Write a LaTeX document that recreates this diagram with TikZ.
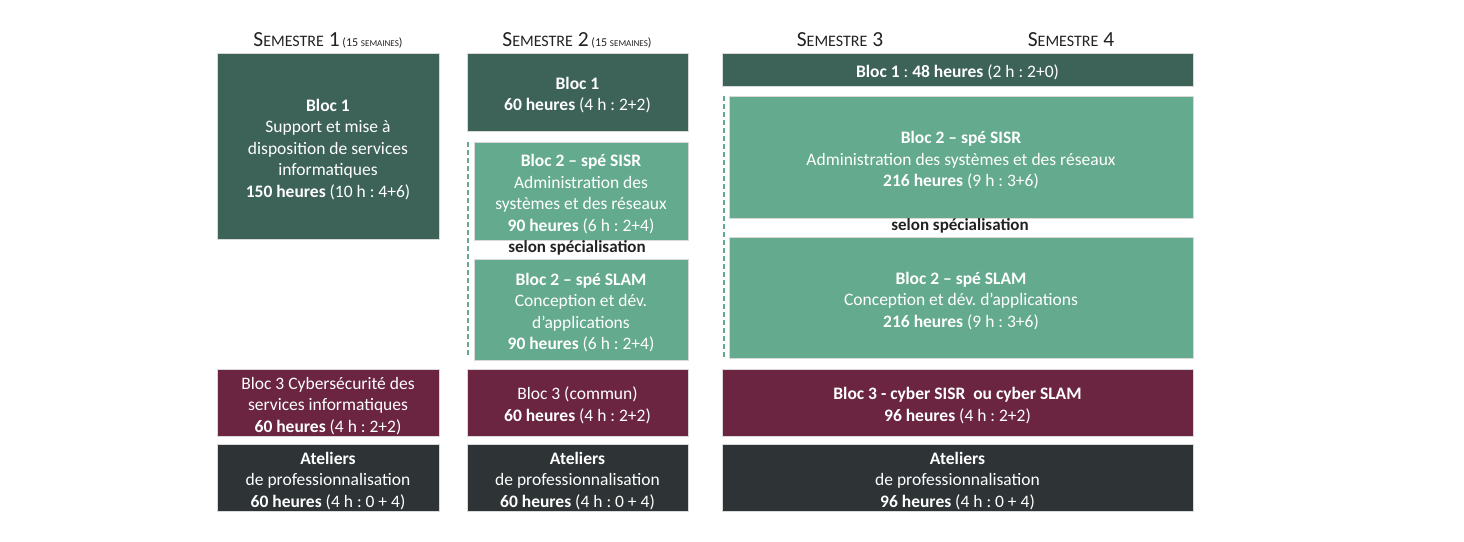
\documentclass[tikz,border=0pt]{standalone}
\usepackage{fontspec}
\setmainfont{Carlito}
\frenchspacing
\definecolor{dkgreen}{RGB}{61,99,88}
\definecolor{ltgreen}{RGB}{100,170,142}
\definecolor{maroon}{RGB}{107,37,65}
\definecolor{charcoal}{RGB}{46,52,54}
\definecolor{labeltext}{RGB}{34,34,34}
\newcommand{\semhead}[1]{{\fontsize{21.5}{24}\selectfont S}{\fontsize{16}{24}\selectfont EMESTRE}{\fontsize{21.5}{24}\selectfont\ #1}}
\newcommand{\semweeks}{{\fontsize{12}{24}\selectfont\ (15 }{\fontsize{9}{24}\selectfont SEMAINES}{\fontsize{12}{24}\selectfont )}}
\newcommand{\tstrut}{\rule{0pt}{18.5pt}}
\begin{document}
\begin{tikzpicture}[x=1pt,y=-1pt,
  box/.style={rectangle,inner sep=0pt,align=center,text=white,
    font=\fontsize{17.5}{21.5}\selectfont,draw=white!85!black,line width=0.6pt},
  dk/.style={box,fill=dkgreen},
  lt/.style={box,fill=ltgreen},
  mr/.style={box,fill=maroon},
  ch/.style={box,fill=charcoal},
  head/.style={inner sep=0pt,text=labeltext},
  spec/.style={inner sep=0pt,text=labeltext,font=\fontsize{17}{20}\selectfont\bfseries},
  dashline/.style={draw=ltgreen,line width=1.2pt,dash pattern=on 5pt off 3pt}]
\useasboundingbox (0,0) rectangle (1464,541);
% headers
\node[head] (h1) at (328,40) {\semhead{1}\semweeks};
\node[head] (h2) at (577,40) {\semhead{2}\semweeks};
\node[head] (h3) at (840,40) {\semhead{3}};
\node[head] (h4) at (1071,40) {\semhead{4}};
% semester 1
\node[dk,minimum width=222pt,minimum height=186pt] (s1b1) at (328,146)
  {\tstrut\textbf{Bloc 1}\\Support et mise à\\disposition de services\\informatiques\\\textbf{150 heures} (10 h : 4+6)};
\node[mr,minimum width=222pt,minimum height=67pt] (s1b3) at (328,402.5)
  {\tstrut Bloc 3 Cybersécurité des\\services informatiques\\\textbf{60 heures} (4 h : 2+2)};
\node[ch,minimum width=222pt,minimum height=67pt] (s1at) at (328,477.5)
  {\tstrut\textbf{Ateliers}\\de professionnalisation\\\textbf{60 heures} (4 h : 0 + 4)};
% semester 2
\node[dk,minimum width=221pt,minimum height=78pt] (s2b1) at (577.5,92)
  {\tstrut\textbf{Bloc 1}\\\textbf{60 heures} (4 h : 2+2)};
\node[lt,minimum width=214pt,minimum height=98pt] (s2sisr) at (581,191)
  {\tstrut\textbf{Bloc 2 – spé SISR}\\Administration des\\systèmes et des réseaux\\\textbf{90 heures} (6 h : 2+4)};
\node[spec] (s2spec) at (577,247.5) {selon spécialisation};
\node[lt,minimum width=214pt,minimum height=101pt] (s2slam) at (581,309.5)
  {\tstrut\textbf{Bloc 2 – spé SLAM}\\Conception et dév.\\d’applications\\\textbf{90 heures} (6 h : 2+4)};
\node[mr,minimum width=221pt,minimum height=67pt] (s2b3) at (577.5,402.5)
  {\tstrut Bloc 3 (commun)\\\textbf{60 heures} (4 h : 2+2)};
\node[ch,minimum width=221pt,minimum height=67pt] (s2at) at (577.5,477.5)
  {\tstrut\textbf{Ateliers}\\de professionnalisation\\\textbf{60 heures} (4 h : 0 + 4)};
\coordinate (d2a) at (468,142);
\coordinate (d2b) at (468,357);
\draw[dashline] (d2a) -- (d2b);
% semesters 3-4
\node[dk,minimum width=471pt,minimum height=33pt] (s3b1) at (957.5,69.5)
  {\tstrut\textbf{Bloc 1} : \textbf{48 heures} (2 h : 2+0)};
\node[lt,minimum width=464pt,minimum height=122pt] (s3sisr) at (961,157)
  {\tstrut\textbf{Bloc 2 – spé SISR}\\Administration des systèmes et des réseaux\\\textbf{216 heures} (9 h : 3+6)};
\node[spec] (s3spec) at (960,226) {selon spécialisation};
\node[lt,minimum width=464pt,minimum height=121pt] (s3slam) at (961,297.5)
  {\tstrut\textbf{Bloc 2 – spé SLAM}\\Conception et dév. d’applications\\\textbf{216 heures} (9 h : 3+6)};
\node[mr,minimum width=471pt,minimum height=67pt] (s3b3) at (957.5,402.5)
  {\tstrut\textbf{Bloc 3 - cyber SISR\ \ ou cyber SLAM}\\\textbf{96 heures} (4 h : 2+2)};
\node[ch,minimum width=471pt,minimum height=67pt] (s3at) at (957.5,477.5)
  {\tstrut\textbf{Ateliers}\\de professionnalisation\\\textbf{96 heures} (4 h : 0 + 4)};
\coordinate (d3a) at (724,96);
\coordinate (d3b) at (724,358);
\draw[dashline] (d3a) -- (d3b);
\end{tikzpicture}
\end{document}
